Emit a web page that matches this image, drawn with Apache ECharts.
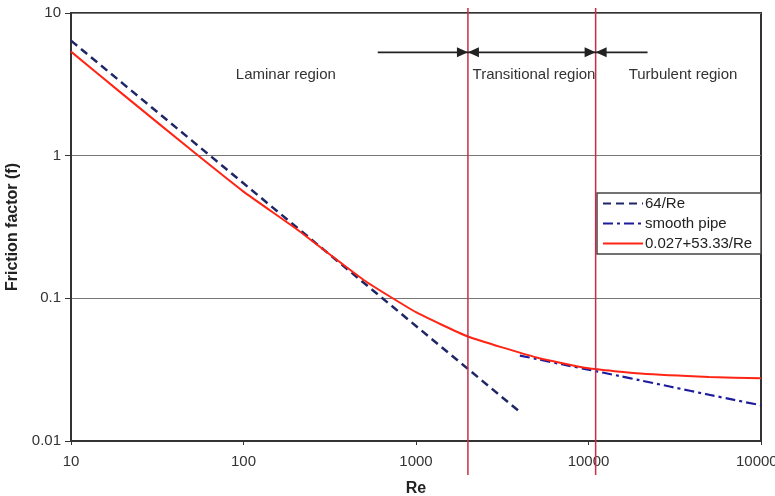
<!DOCTYPE html>
<html>
<head>
<meta charset="utf-8">
<script src="https://cdn.jsdelivr.net/npm/echarts@6/dist/echarts.min.js"></script>
<style>
  html, body { margin: 0; padding: 0; background: #fff; }
  #chart { width: 775px; height: 496px; }
</style>
</head>
<body>
<div id="chart"></div>
<script>
// data
const reLaminar = [10, 20, 50, 100, 200, 500, 1000, 2000, 4000];
const fLaminar = [6.4, 3.2, 1.28, 0.64, 0.32, 0.128, 0.064, 0.032, 0.016];

const reSmooth = [4000, 5000, 7000, 10000, 15000, 20000, 30000, 50000, 70000, 100000];
const fSmooth = [0.0397, 0.0376, 0.0345, 0.0316, 0.0286, 0.0266, 0.0240, 0.0211, 0.0194, 0.0178];

const reFit = [10, 20, 50, 100, 200, 500, 1000, 2000, 5000, 10000, 20000, 50000, 100000];
const fFit = [5.36, 2.69, 1.09, 0.56, 0.31, 0.134, 0.080, 0.054, 0.0385, 0.0323, 0.0297, 0.0281, 0.0275];

const seriesNames = ['64/Re', 'smooth pipe', '0.027+53.33/Re'];
const regionBounds = [2000, 11000];
const arrowEnds = [600, 2000, 11000, 22000];
const arrowF = 5.3;
const regionLabels = ['Laminar region', 'Transitional region', 'Turbulent region'];
const regionLabelRe = [176, 4830, 35300];
const regionLabelF = 3.7;

const FONT = '"Liberation Sans", Arial, sans-serif';

const chart = echarts.init(document.getElementById('chart'));

const pairs = (xs, ys) => xs.map((x, i) => [x, ys[i]]);

chart.setOption({
  animation: false,
  textStyle: { fontFamily: FONT },
  grid: {
    left: 71, right: 14, top: 13, bottom: 55,
    outerBoundsMode: 'none', containLabel: false,
    show: true, borderColor: '#333', borderWidth: 2
  },
  legend: {
    data: seriesNames,
    orient: 'vertical',
    left: 602, top: 196,
    itemWidth: 40, itemHeight: 14, itemGap: 5,
    padding: 0,
    itemStyle: { opacity: 0 },
    textStyle: { fontFamily: FONT, fontSize: 15, color: '#222', padding: [0, 0, 0, -3] },
    z: 5
  },
  xAxis: {
    type: 'log', logBase: 10, min: 10, max: 100000,
    name: 'Re', nameLocation: 'middle', nameGap: 40,
    nameTextStyle: { fontFamily: FONT, fontSize: 16, fontWeight: 'bold', color: '#222' },
    axisLine: { show: true, lineStyle: { color: '#333', width: 2 } },
    axisTick: { show: true, length: 4, lineStyle: { color: '#333' } },
    axisLabel: { fontFamily: FONT, fontSize: 15, color: '#333', margin: 13, formatter: v => String(v) },
    splitLine: { show: false },
    minorTick: { show: false }
  },
  yAxis: {
    type: 'log', logBase: 10, min: 0.01, max: 10,
    name: 'Friction factor (f)', nameLocation: 'middle', nameGap: 49,
    nameTextStyle: { fontFamily: FONT, fontSize: 16, fontWeight: 'bold', color: '#222' },
    axisLine: { show: true, lineStyle: { color: '#333', width: 2 } },
    axisTick: { show: true, length: 6, lineStyle: { color: '#333' } },
    axisLabel: { fontFamily: FONT, fontSize: 15, color: '#333', margin: 10, formatter: v => String(v) },
    splitLine: { show: true, lineStyle: { color: '#777', width: 1 } }
  },
  series: [
    {
      name: seriesNames[0], type: 'line', symbol: 'none',
      data: pairs(reLaminar, fLaminar),
      lineStyle: { color: '#1f2666', width: 2.5, type: [8, 5] },
      itemStyle: { color: '#1f2666' }
    },
    {
      name: seriesNames[1], type: 'line', symbol: 'none', smooth: 0.3,
      data: pairs(reSmooth, fSmooth),
      lineStyle: { color: '#1c1c9c', width: 2.2, type: [10, 4, 3, 4] },
      itemStyle: { color: '#1c1c9c' }
    },
    {
      name: seriesNames[2], type: 'line', symbol: 'none', smooth: 0.15,
      data: pairs(reFit, fFit),
      lineStyle: { color: '#ff2414', width: 2 },
      itemStyle: { color: '#ff2414' }
    }
  ]
});

// annotations placed through the axes' own scale
const px = (x, y) => chart.convertToPixel({ gridIndex: 0 }, [x, y]);
const graphics = [];

// legend box
graphics.push({
  type: 'rect', z: 4,
  shape: { x: 597, y: 193, width: 164, height: 61 },
  style: { fill: '#fff', stroke: '#444', lineWidth: 1.5 }
});

// region boundaries (drawn past the plot frame like the original)
regionBounds.forEach(re => {
  const x = px(re, 1)[0];
  graphics.push({
    type: 'line', z: 6,
    shape: { x1: x, y1: 8, x2: x, y2: 475 },
    style: { stroke: '#c23049', lineWidth: 1.5 }
  });
});

// arrows
const ay = px(10, arrowF)[1];
const head = (x, dir) => ({
  type: 'polygon', z: 7,
  shape: { points: [[x, ay], [x - dir * 11, ay - 5], [x - dir * 11, ay + 5]] },
  style: { fill: '#222' }
});
const xs = arrowEnds.map(re => px(re, arrowF)[0]);
graphics.push({ type: 'line', z: 7, shape: { x1: xs[0], y1: ay, x2: xs[3], y2: ay }, style: { stroke: '#222', lineWidth: 1.8 } });
graphics.push(head(xs[1], 1));
graphics.push(head(xs[1], -1));
graphics.push(head(xs[2], 1));
graphics.push(head(xs[2], -1));

// region labels
regionLabels.forEach((t, i) => {
  const p = px(regionLabelRe[i], regionLabelF);
  graphics.push({
    type: 'text', z: 7, x: p[0], y: p[1],
    style: { text: t, fill: '#333', font: '15px ' + FONT, textAlign: 'center', textVerticalAlign: 'middle' }
  });
});

chart.setOption({ graphic: graphics });

window.addEventListener('resize', () => chart.resize());
</script>
</body>
</html>
